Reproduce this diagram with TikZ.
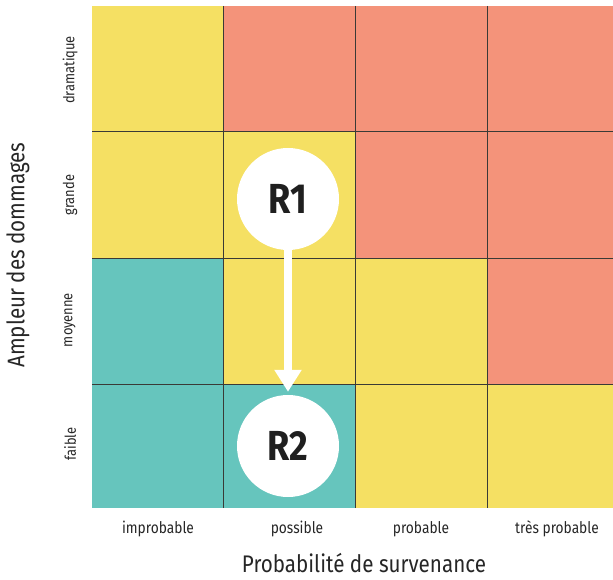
\documentclass[tikz,border=0pt]{standalone}
\usepackage{fontspec}
\setmainfont{Fira Sans}[FakeStretch=0.86]
\usetikzlibrary{arrows.meta}
\definecolor{cy}{HTML}{F5E063}
\definecolor{cs}{HTML}{F4937A}
\definecolor{ct}{HTML}{66C5BD}
\definecolor{gline}{HTML}{3A3A36}
\tikzset{
  risk/.style={circle, fill=white, minimum size=102pt, inner sep=0pt, font=\fontsize{42}{46}\selectfont\bfseries, text=black!88},
  collab/.style={font=\fontsize{16}{18}\selectfont, text=black!85},
  rowlab/.style={font=\fontsize{15}{17}\selectfont, text=black!85, rotate=90},
  axlab/.style={font=\fontsize{24}{27}\selectfont, text=black!85, inner sep=1pt},
  gridline/.style={draw=gline, line width=1pt},
  riskarrow/.style={draw=white, line width=8pt, -{Triangle[width=26pt,length=22pt]}, shorten >=3pt, shorten <=-4pt}
}
\begin{document}
\begin{tikzpicture}[x=1pt,y=-1pt]
\useasboundingbox (0,0) rectangle (613,580);
% cells: columns 92,223,355,487,613 ; rows 6,132,258,384,508
\fill[cy] (92,6) rectangle (223,132);
\fill[cs] (223,6) rectangle (613,132);
\fill[cy] (92,132) rectangle (355,258);
\fill[cs] (355,132) rectangle (613,258);
\fill[ct] (92,258) rectangle (223,384);
\fill[cy] (223,258) rectangle (487,384);
\fill[cs] (487,258) rectangle (613,384);
\fill[ct] (92,384) rectangle (355,508);
\fill[cy] (355,384) rectangle (613,508);
% grid lines
\foreach \x in {223,355,487} \draw[gridline] (\x,6) -- (\x,508);
\foreach \y in {132,258,384} \draw[gridline] (92,\y) -- (613,\y);
% circles
\node[risk] (R1) at (288,199) {R1};
\node[risk] (R2) at (288,446) {R2};
\draw[riskarrow] (R1.south) -- (R2.north);
% column labels
\node[collab] (c1) at (158,529) {improbable};
\node[collab] (c2) at (297,529) {possible};
\node[collab] (c3) at (421,529) {probable};
\node[collab] (c4) at (557,529) {très probable};
% row labels
\node[rowlab] (r1) at (70,70) {dramatique};
\node[rowlab] (r2) at (70,195) {grande};
\node[rowlab] (r3) at (70,320) {moyenne};
\node[rowlab] (r4) at (70,444) {faible};
% axis titles
\node[axlab, rotate=90] (ay) at (18,255) {Ampleur des dommages};
\node[axlab] (ax) at (364,563) {Probabilité de survenance};
\end{tikzpicture}
\end{document}
